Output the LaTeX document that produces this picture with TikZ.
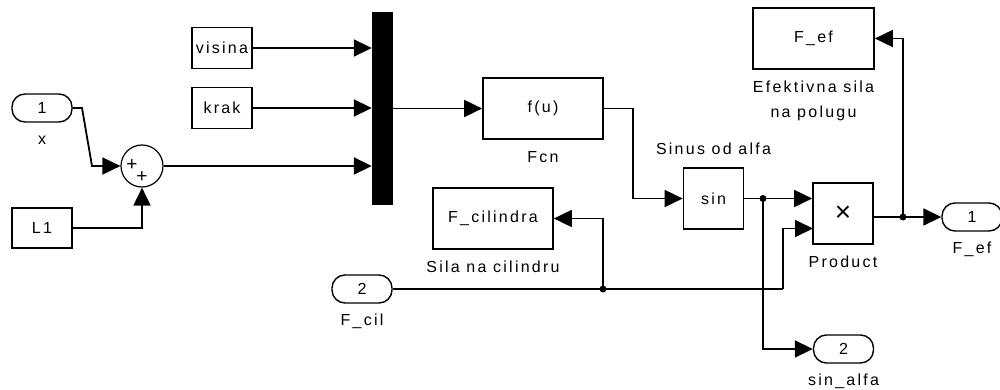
\documentclass[tikz,border=0pt]{standalone}
\usepackage{fontspec}
\setmainfont{Liberation Sans}[LetterSpace=14]
\usetikzlibrary{positioning, arrows.meta}

\tikzset{
    blk/.style={draw, line width=1.7pt, minimum width=60pt, minimum height=61pt, inner sep=0pt},
    port/.style={draw, line width=1.4pt, rounded corners=13pt, minimum width=60pt, minimum height=28pt, inner sep=0pt},
    nm/.style={inner sep=0pt, text height=11pt, text depth=3pt},
    sig/.style={line width=1.8pt, -{Triangle[length=18pt,width=17pt]}},
    wire/.style={line width=1.8pt},
    jdot/.style={circle, fill, inner sep=0pt, minimum size=7pt}
}

\begin{document}
\begin{tikzpicture}[x=1pt, y=-1pt, font=\fontsize{16}{19}\selectfont]
    \useasboundingbox (0,0) rectangle (1000,390);
    % inputs
    \node[port] (inx) at (42,108) {1};
    \node[nm, below=11pt of inx] (inxname) {x};
    \node[blk, minimum height=40pt] (lone) at (42,228) {L1};
    \node[blk, minimum height=41pt] (visina) at (222,48) {visina};
    \node[blk, minimum height=41pt] (krak) at (222,108) {krak};
    \node[port] (fcil) at (362,289) {2};
    \node[nm, below=11pt of fcil] (fcilname) {F\_cil};
    % sum
    \node[circle, draw, line width=1.2pt, minimum size=42pt, inner sep=0pt] (sum) at (142,166) {};
    \node[inner sep=0pt, font=\fontsize{19}{19}\selectfont] (sumpa) at (132,165) {+};
    \node[inner sep=0pt, font=\fontsize{19}{19}\selectfont] (sumpb) at (142,177) {+};
    % mux and function
    \node[fill=black, minimum width=21pt, minimum height=193pt, inner sep=0pt] (mux) at (382.5,108.5) {};
    \node[blk, minimum width=120pt] (fcn) at (543,108.5) {f(u)};
    \node[nm, below=11pt of fcn] (fcnname) {Fcn};
    \node[blk] (sinb) at (713.5,198.5) {sin};
    \node[nm, above=9pt of sinb] (sinbname) {Sinus od alfa};
    \node[blk, font=\fontsize{28}{28}\selectfont] (prod) at (843,213.5) {×};
    \node[nm, below=11pt of prod] (prodname) {Product};
    % sinks
    \node[blk, minimum width=120pt] (fcila) at (493,218.5) {F\_cilindra};
    \node[nm, below=11pt of fcila] (fcilaname) {Sila na cilindru};
    \node[blk, minimum width=121pt] (fefblk) at (813.5,38.5) {F\_ef};
    \node[nm, below=11pt of fefblk] (fefname) {Efektivna sila};
    \node[nm, below=11pt of fefname] (fefnameb) {na polugu};
    \node[port] (fefout) at (972,217) {1};
    \node[nm, below=11pt of fefout] (fefoutname) {F\_ef};
    \node[port] (sinalfa) at (843.5,349) {2};
    \node[nm, below=11pt of sinalfa] (sinalfaname) {sin\_alfa};
    % bend points and branch points
    \coordinate (bxa) at (82,108);
    \coordinate (bxb) at (92,166);
    \coordinate (ja) at (763,198.5);
    \coordinate (jb) at (603,289);
    \coordinate (jc) at (903,217);
    \coordinate (kb) at (783,289);
    \coordinate (pinb) at (813,228.5);
    % connectors
    \draw[sig] (inx.east) -- (bxa) -- (bxb) -- (sum.west);
    \draw[sig] (lone.east) -| (sum.south);
    \draw[sig] (visina.east) -- (visina -| mux.west);
    \draw[sig] (krak.east) -- (krak -| mux.west);
    \draw[sig] (sum.east) -- (sum -| mux.west);
    \draw[sig] (mux.east) -- (fcn.west);
    \draw[sig] (fcn.east) -- ++(29,0) |- (sinb.west);
    \draw[wire] (sinb.east) -- (ja);
    \draw[sig] (ja) -- (prod.west |- ja);
    \draw[sig] (ja) |- (sinalfa.west);
    \draw[wire] (fcil.east) -- (kb);
    \draw[sig] (kb) |- (pinb);
    \draw[sig] (jb) |- (fcila.east);
    \draw[wire] (prod.east |- jc) -- (jc);
    \draw[sig] (jc) -- (fefout.west);
    \draw[sig] (jc) |- (fefblk.east);
    \node[jdot] (dja) at (ja) {};
    \node[jdot] (djb) at (jb) {};
    \node[jdot] (djc) at (jc) {};
\end{tikzpicture}
\end{document}
